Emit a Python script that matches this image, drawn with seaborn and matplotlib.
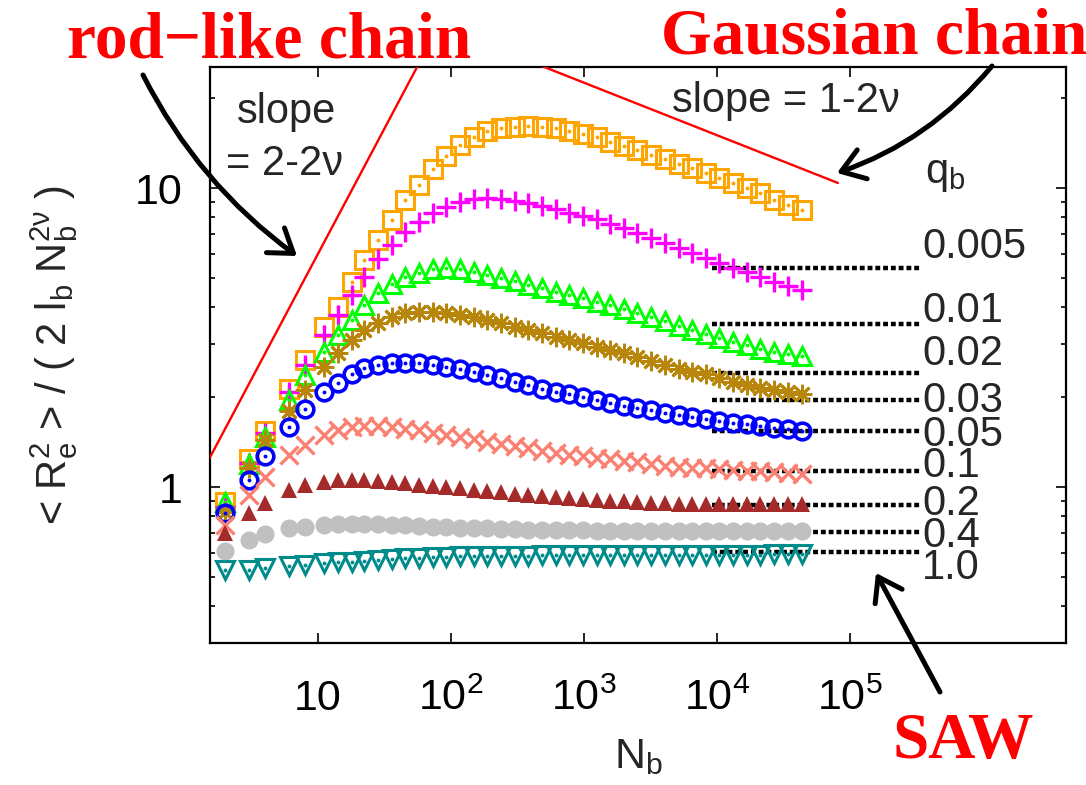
import matplotlib
matplotlib.use("Agg")
import matplotlib.pyplot as plt
import seaborn as sns
from matplotlib.ticker import NullLocator, NullFormatter, LogLocator

# chain length N_b (same grid for every q_b)
N_b = [2, 3, 4, 6, 8, 11, 14, 18, 22, 28, 36, 45, 57, 73, 92,
       117, 148, 187, 237, 301, 381, 482, 611, 774, 980,
       1240, 1570, 1990, 2520, 3200, 4050, 5130, 6500, 8240, 10400,
       13200, 16700, 21200, 26900, 34000, 43200]

q_b = ["0.005", "0.01", "0.02", "0.03", "0.05", "0.1", "0.2", "0.4", "1.0"]

# <R_e^2>/(2 l_b N_b^{2nu})
r_0005 = [0.89, 1.24, 1.54, 2.13, 2.66, 3.43, 4.0, 4.85, 5.74, 6.7, 7.8, 9.1, 10.2, 11.6, 12.8,
          13.9, 14.8, 15.5, 15.9, 16.0, 16.1, 16.0, 15.9, 15.5, 15.2, 14.8, 14.3, 13.8, 13.4, 12.9,
          12.5, 12.0, 11.7, 11.2, 10.8, 10.4, 10.0, 9.6, 9.1, 8.8, 8.45]
r_001 = [0.86, 1.20, 1.52, 2.08, 2.56, 3.22, 3.76, 4.39, 5.03, 5.8, 6.45, 7.12, 7.69, 8.25, 8.62,
         8.96, 9.17, 9.24, 9.17, 9.03, 8.9, 8.7, 8.5, 8.25, 8.05, 7.88, 7.6, 7.35, 7.06, 6.8,
         6.55, 6.3, 6.05, 5.85, 5.62, 5.42, 5.22, 5.03, 4.86, 4.7, 4.55]
r_002 = [0.89, 1.19, 1.47, 1.95, 2.37, 2.83, 3.22, 3.61, 4.06, 4.45, 4.77, 5.03, 5.19, 5.36, 5.4,
         5.36, 5.24, 5.11, 5.0, 4.88, 4.74, 4.63, 4.49, 4.39, 4.29, 4.15, 4.05, 3.93, 3.82, 3.7,
         3.58, 3.46, 3.35, 3.25, 3.15, 3.06, 2.98, 2.9, 2.84, 2.79, 2.74]
r_003 = [0.825, 1.16, 1.44, 1.79, 2.11, 2.52, 2.8, 3.1, 3.35, 3.53, 3.7, 3.82, 3.85, 3.85, 3.82,
         3.76, 3.7, 3.61, 3.53, 3.43, 3.35, 3.27, 3.17, 3.1, 3.03, 2.95, 2.88, 2.8, 2.72, 2.64,
         2.56, 2.49, 2.42, 2.38, 2.32, 2.25, 2.19, 2.15, 2.11, 2.08, 2.05]
r_005 = [0.82, 1.06, 1.27, 1.59, 1.82, 2.08, 2.23, 2.39, 2.5, 2.56, 2.6, 2.6, 2.6, 2.56, 2.52,
         2.48, 2.43, 2.37, 2.31, 2.25, 2.19, 2.13, 2.08, 2.04, 2.0, 1.96, 1.91, 1.87, 1.84, 1.81,
         1.77, 1.74, 1.71, 1.69, 1.66, 1.64, 1.62, 1.6, 1.58, 1.56, 1.54]
r_01 = [0.746, 0.94, 1.08, 1.28, 1.38, 1.49, 1.55, 1.59, 1.6, 1.6, 1.59, 1.57, 1.55, 1.52, 1.49,
        1.47, 1.45, 1.42, 1.39, 1.37, 1.35, 1.32, 1.3, 1.28, 1.27, 1.25, 1.24, 1.22, 1.21, 1.19,
        1.18, 1.17, 1.16, 1.155, 1.15, 1.14, 1.135, 1.13, 1.12, 1.115, 1.11]
r_02 = [0.70, 0.82, 0.884, 0.977, 1.015, 1.04, 1.055, 1.06, 1.055, 1.05, 1.04, 1.03, 1.02, 1.008, 1.0,
        0.99, 0.977, 0.97, 0.96, 0.95, 0.94, 0.935, 0.927, 0.919, 0.912, 0.905, 0.9, 0.895, 0.89, 0.884,
        0.882, 0.88, 0.879, 0.878, 0.877, 0.876, 0.876, 0.875, 0.875, 0.875, 0.875]
r_04 = [0.611, 0.665, 0.696, 0.729, 0.735, 0.746, 0.75, 0.752, 0.752, 0.75, 0.748, 0.745, 0.742, 0.738, 0.735,
        0.732, 0.73, 0.727, 0.725, 0.723, 0.721, 0.72, 0.718, 0.717, 0.716, 0.715, 0.715, 0.714, 0.714, 0.714,
        0.713, 0.713, 0.713, 0.713, 0.712, 0.712, 0.712, 0.712, 0.712, 0.712, 0.712]
r_10 = [0.527, 0.527, 0.536, 0.544, 0.548, 0.557, 0.56, 0.562, 0.565, 0.57, 0.574, 0.578, 0.58, 0.583, 0.585,
        0.586, 0.587, 0.588, 0.589, 0.59, 0.59, 0.591, 0.591, 0.592, 0.592, 0.592, 0.593, 0.593, 0.593, 0.594,
        0.594, 0.594, 0.594, 0.595, 0.595, 0.595, 0.595, 0.595, 0.596, 0.596, 0.596]

series = [r_0005, r_001, r_002, r_003, r_005, r_01, r_02, r_04, r_10]

# SAW plateau levels (dotted) and the N_b range they span
saw_levels = [5.40, 3.51, 2.41, 1.95, 1.54, 1.13, 0.87, 0.707, 0.606]
saw_x = [9200, 350000]

# guide lines: rod-like (slope 2-2nu) and Gaussian (slope 1-2nu)
rod_x = [1.5, 60]
rod_y = [1.23, 27.1]
gauss_x = [300, 81000]
gauss_y = [27.8, 10.4]

# colour, marker, size, face, edge width, centre dot
styles = [
    ("#FFA500", "s", 12.5, "none", 2.2, True),
    ("#FF00FF", "+", 14, None, 2.4, False),
    ("#00FF00", "^", 13.5, "none", 2.2, True),
    ("#B8860B", (8, 2, 0), 14, None, 2.0, False),
    ("#0000FF", "o", 12, "none", 2.6, True),
    ("#FA8072", "x", 12.5, None, 2.4, False),
    ("#A52A2A", "^", 11, "#A52A2A", 0, False),
    ("#C0C0C0", "o", 13, "#C0C0C0", 0, False),
    ("#008B8B", "v", 13.5, "none", 2.2, True),
]

sns.set_style("ticks")
plt.rcParams["font.family"] = ["Liberation Sans", "DejaVu Sans"]
plt.rcParams["mathtext.fontset"] = "custom"
plt.rcParams["mathtext.rm"] = "Liberation Sans"
plt.rcParams["mathtext.it"] = "Liberation Sans"
plt.rcParams["mathtext.bf"] = "Liberation Sans:bold"

W, H = 1086, 785
fig = plt.figure(figsize=(W / 100, H / 100), dpi=100)
ax = fig.add_axes([210 / W, 1 - 643 / H, 856 / W, 576 / H])
ax.set_xscale("log")
ax.set_yscale("log")


def fpx(x, y):
    # pixel position (from top-left) -> figure fraction
    return x / W, 1 - y / H


# dotted SAW levels, under the points
for lev in saw_levels:
    sns.lineplot(x=saw_x, y=[lev, lev], color="black", lw=3.2,
                 linestyle=(0, (1.1, 0.65)), ax=ax, zorder=2)

for vals, (c, m, ms, fc, mew, dot) in zip(series, styles):
    kw = dict(markerfacecolor=fc) if fc is not None else {}
    sns.lineplot(x=N_b, y=vals, ax=ax, linestyle="", marker=m, markersize=ms,
                 color=c, markeredgecolor=c, markeredgewidth=mew, zorder=3, **kw)
    if dot:
        sns.lineplot(x=N_b, y=vals, ax=ax, linestyle="", marker="o", markersize=2.8,
                     color=c, markerfacecolor=c, markeredgecolor=c, markeredgewidth=0, zorder=3)

sns.lineplot(x=rod_x, y=rod_y, color="red", lw=1.7, ax=ax, zorder=4)
sns.lineplot(x=gauss_x, y=gauss_y, color="red", lw=1.7, ax=ax, zorder=4)

ax.set_xlim(1.54, 4.2e6)
ax.set_ylim(0.301, 25.4)
ax.set_xticks([10, 1e2, 1e3, 1e4, 1e5],
              ["10", r"$\mathregular{10^{2}}$", r"$\mathregular{10^{3}}$",
               r"$\mathregular{10^{4}}$", r"$\mathregular{10^{5}}$"])
ax.xaxis.set_minor_locator(NullLocator())
ax.set_yticks([1, 10], ["1", "10"])
ax.yaxis.set_minor_locator(LogLocator(base=10, subs=[2, 3, 4, 5, 6, 7, 8, 9]))
ax.yaxis.set_minor_formatter(NullFormatter())
ax.tick_params(which="both", direction="in", top=True, right=True, width=1.2,
               labelsize=31, colors="black")
ax.tick_params(which="major", length=7.5)
ax.tick_params(which="minor", length=3.8)
ax.tick_params(axis="x", pad=48)
ax.tick_params(axis="y", pad=19.5)
for t in ax.get_xticklabels():
    t.set_va("baseline")
for sp in ax.spines.values():
    sp.set_linewidth(1.6)
    sp.set_color("black")

ax.set_xlabel(r"$\mathregular{N_b}$", fontsize=31)
ax.xaxis.set_label_coords(0.5, -0.163)
ax.set_ylabel(r"< R$_e^2$ > / ( 2 l$_b$ N$_b^{2ν}$ )", fontsize=30)
ax.yaxis.set_label_coords(-0.152, 0.5)

# annotations
red = dict(family="Liberation Serif", weight="bold", color="red", fontsize=47, va="baseline")
fig.text(*fpx(67, 58), "rod−like chain", ha="left", **red)
fig.text(*fpx(661, 53), "Gaussian chain", ha="left", **red)
fig.text(*fpx(892, 758), "SAW", ha="left", **red)

fig.text(*fpx(286, 123), "slope", ha="center", va="baseline", fontsize=30)
fig.text(*fpx(285, 175), "= 2-2ν", ha="center", va="baseline", fontsize=30)
fig.text(*fpx(672, 112), "slope = 1-2ν", ha="left", va="baseline", fontsize=30)
fig.text(*fpx(925, 183), r"q$_b$", ha="left", va="baseline", fontsize=30)

label_base = [258, 322, 365, 412, 446, 477, 515, 547, 579]
for lab, yb in zip(q_b, label_base):
    fig.text(*fpx(922, yb), lab, ha="left", va="baseline", fontsize=30)

arrow = dict(arrowstyle="->,head_length=0.8,head_width=0.55", lw=3.6, color="black",
             shrinkA=0, shrinkB=0, mutation_scale=20)
ax.annotate("", xy=fpx(297, 256), xytext=fpx(143, 75), xycoords="figure fraction",
            textcoords="figure fraction", annotation_clip=False,
            arrowprops=dict(connectionstyle="arc3,rad=0.12", **arrow))
ax.annotate("", xy=fpx(837, 173), xytext=fpx(992, 66), xycoords="figure fraction",
            textcoords="figure fraction", annotation_clip=False,
            arrowprops=dict(connectionstyle="arc3,rad=-0.14", **arrow))
ax.annotate("", xy=fpx(876, 573), xytext=fpx(940, 692), xycoords="figure fraction",
            textcoords="figure fraction", annotation_clip=False,
            arrowprops=dict(connectionstyle="arc3,rad=0", **arrow))

fig.savefig("out.png", dpi=100)
